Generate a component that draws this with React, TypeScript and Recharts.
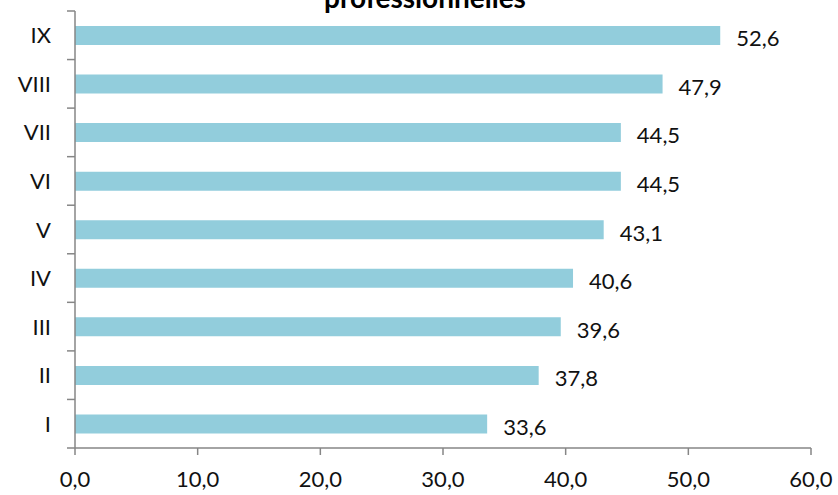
import * as React from "react";
import { BarChart, Bar, XAxis, YAxis, LabelList } from "recharts";

const categories = ["I", "II", "III", "IV", "V", "VI", "VII", "VIII", "IX"];
const values = [33.6, 37.8, 39.6, 40.6, 43.1, 44.5, 44.5, 47.9, 52.6];
const xTicks = [0, 10, 20, 30, 40, 50, 60];

const data = categories.map((name, i) => ({ name, value: values[i] }));

const W = 838;
const H = 495;
const TOP = 11;
const BOTTOM = 47;
const AXIS = "#868686";
const FONT = "Lato, 'Open Sans', sans-serif";
const band = (H - TOP - BOTTOM) / categories.length;

const fmt = (v: number) => v.toFixed(1).replace(".", ",");

const YTick = (props: any) => {
  const { x, y, payload, index } = props;
  const ax = x + 8;
  return (
    <g>
      <text x={x - 16} y={y} dy={8} textAnchor="end" fontSize={22} fill="#111" fontFamily={FONT}>
        {payload.value}
      </text>
      <line x1={ax - 8} x2={ax} y1={y - band / 2} y2={y - band / 2} stroke={AXIS} strokeWidth={1.5} />
      {index === 0 && (
        <line x1={ax - 8} x2={ax} y1={y + band / 2} y2={y + band / 2} stroke={AXIS} strokeWidth={1.5} />
      )}
    </g>
  );
};

export default function App() {
  return (
    <div style={{ position: "absolute", left: 0, top: 0, width: W, height: H, overflow: "hidden", background: "#fff" }}>
      <div
        style={{
          position: "absolute",
          top: -17,
          left: 6,
          width: W,
          textAlign: "center",
          fontFamily: FONT,
          fontWeight: 700,
          fontSize: 28,
          lineHeight: "28px",
          color: "#000",
        }}
      >
        professionnelles
      </div>
      <BarChart
        width={W}
        height={H}
        data={data}
        layout="vertical"
        margin={{ top: TOP, right: 27, bottom: 7, left: 7 }}
      >
        <XAxis
          type="number"
          domain={[0, 60]}
          ticks={xTicks}
          tickFormatter={fmt}
          axisLine={{ stroke: AXIS, strokeWidth: 1.5 }}
          tickLine={{ stroke: AXIS, strokeWidth: 1.5 }}
          tickSize={7}
          height={40}
          tick={{ fontSize: 22, fill: "#111", fontFamily: FONT, dy: 14 }}
        />
        <YAxis
          type="category"
          dataKey="name"
          reversed
          width={68}
          axisLine={{ stroke: AXIS, strokeWidth: 1.5 }}
          tickLine={false}
          tick={<YTick />}
        />
        <Bar dataKey="value" fill="#92CDDC" barSize={19} isAnimationActive={false}>
          <LabelList
            dataKey="value"
            position="right"
            offset={16}
            formatter={(v: any) => fmt(Number(v))}
            style={{ fontSize: 22, fill: "#111", fontFamily: FONT }}
            dy={3}
          />
        </Bar>
      </BarChart>
    </div>
  );
}
